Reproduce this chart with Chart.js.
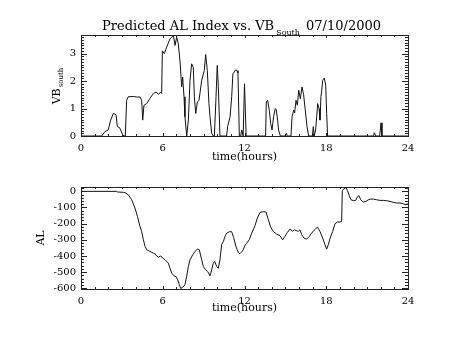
<!DOCTYPE html>
<html>
<head>
<meta charset="utf-8">
<script src="https://cdn.jsdelivr.net/npm/chart.js@4.4.1/dist/chart.umd.min.js"></script>
<style>
  html, body { margin: 0; padding: 0; background: #fff; }
  #wrap { position: relative; width: 454px; height: 341px; }
  canvas { position: absolute; left: 0; }
  #vbChart { top: 0; }
  #alChart { top: 170px; }
</style>
</head>
<body>
<div id="wrap">
  <canvas id="vbChart" width="454" height="170"></canvas>
  <canvas id="alChart" width="454" height="171"></canvas>
</div>
<script>
// Tick labels
const hourTicks = [0, 6, 12, 18, 24];
const vbTicks = [0, 1, 2, 3];
const alTicks = [-600, -500, -400, -300, -200, -100, 0];

// Southward IMF (VB south), time in hours
const vbTime = [
  0, 1.52, 1.76, 2.0, 2.18, 2.37, 2.57, 2.67, 2.82, 2.91,
  3.06, 3.16, 3.25, 3.35, 3.47, 3.84, 4.09, 4.33, 4.45, 4.53,
  4.62, 4.82, 5.06, 5.31, 5.5, 5.68, 5.85, 5.92, 5.97, 6.12,
  6.29, 6.53, 6.78, 6.9, 7.02, 7.14, 7.27, 7.39, 7.46, 7.56,
  7.63, 7.76, 7.88, 8.0, 8.12, 8.24, 8.32, 8.42, 8.54, 8.66,
  8.86, 9.05, 9.15, 9.27, 9.39, 9.47, 9.59, 9.71, 9.79, 9.91,
  10.0, 10.08, 10.2, 10.69, 10.76, 10.94, 11.06, 11.15, 11.25, 11.35,
  11.45, 11.52, 11.62, 11.72, 11.8, 11.9, 12.0, 12.12, 13.55, 13.6,
  13.7, 13.82, 13.92, 14.02, 14.14, 14.26, 14.33, 14.43, 14.5, 14.63,
  14.99, 15.07, 15.14, 15.41, 15.49, 15.61, 15.68, 15.78, 15.88, 15.98,
  16.1, 16.22, 16.34, 16.46, 16.59, 16.71, 16.98, 17.05, 17.12, 17.22,
  17.3, 17.37, 17.47, 17.54, 17.61, 17.67, 17.74, 17.86, 17.96, 18.03,
  18.1, 21.46, 21.53, 21.63, 21.92, 22.02, 22.09, 24
];
const vbSouth = [
  0, 0, 0.16, 0.22, 0.58, 0.82, 0.78, 0.34, 0.31, 0.22,
  0.04, 0, 0, 1.3, 1.43, 1.44, 1.42, 1.42, 1.3, 0.58,
  1.12, 1.18, 1.37, 1.55, 1.6, 1.52, 1.6, 1.55, 3.1, 3.0,
  3.24, 3.54, 3.66, 3.3, 3.6, 3.36, 2.7, 1.79, 2.15, 1.43,
  0.7, 0, 0.58, 2.03, 2.63, 2.5, 1.43, 0.82, 1.24, 1.3,
  2.03, 2.39, 2.97, 2.39, 1.18, 0.7, 0.1, 0, 0, 1.43,
  2.57, 1.8, 0, 0, 0.34, 0.7, 1.43, 2.27, 2.33, 2.41,
  2.38, 2.3, 0, 0, 0.22, 0, 1.9, 0, 0, 1.24,
  1.3, 0.94, 0.46, 0.22, 0.72, 1.0, 0.96, 0.58, 0.22, 0,
  0, 0.1, 0, 0, 0.7, 0.94, 0.84, 1.3, 1.12, 1.67,
  1.36, 1.79, 1.5, 0.94, 0.34, 0, 0, 0.34, 0, 0.22,
  0.7, 1.18, 1.0, 0.58, 1.43, 1.67, 2.03, 2.11, 1.85, 0.82,
  0, 0, 0.12, 0, 0, 0.48, 0, 0
];

// Predicted AL index, time in hours
const alTime = [
  0, 2.6, 2.7, 3.1, 3.23, 3.47, 3.72, 3.96, 4.14, 4.33,
  4.45, 4.58, 4.7, 4.82, 5.06, 5.31, 5.43, 5.55, 5.68, 5.85,
  6.0, 6.17, 6.41, 6.53, 6.66, 6.83, 6.97, 7.1, 7.22, 7.32,
  7.46, 7.63, 7.75, 7.88, 8.0, 8.2, 8.37, 8.54, 8.68, 8.86,
  8.98, 9.15, 9.3, 9.47, 9.59, 9.71, 9.81, 9.96, 10.08, 10.2,
  10.32, 10.45, 10.57, 10.69, 10.89, 11.06, 11.2, 11.38, 11.55, 11.67,
  11.87, 12.04, 12.16, 12.35, 12.53, 12.77, 12.94, 13.14, 13.38, 13.58,
  13.75, 13.92, 14.11, 14.36, 14.61, 14.8, 14.97, 15.14, 15.34, 15.54,
  15.66, 15.83, 15.95, 16.07, 16.2, 16.37, 16.56, 16.76, 16.93, 17.1,
  17.35, 17.54, 17.74, 17.91, 18.03, 18.15, 18.28, 18.47, 18.64, 18.81,
  19.01, 19.13, 19.18, 19.3, 19.45, 19.55, 19.69, 19.82, 19.99, 20.16,
  20.31, 20.4, 20.53, 20.72, 20.92, 21.09, 21.26, 21.46, 21.7, 21.94,
  22.19, 22.43, 22.68, 22.92, 23.17, 23.41, 23.66, 23.83, 23.98, 24
];
const alIndex = [
  0, 0, -4, -6, -8, -21, -52, -103, -155, -217,
  -248, -300, -341, -362, -372, -383, -387, -400, -408, -400,
  -414, -424, -445, -476, -507, -523, -528, -548, -579, -602,
  -594, -579, -528, -466, -424, -393, -372, -358, -362, -424,
  -466, -486, -497, -523, -486, -445, -434, -466, -476, -424,
  -331, -310, -279, -259, -250, -250, -285, -345, -380, -386,
  -368, -334, -321, -300, -259, -213, -166, -130, -126, -128,
  -176, -221, -248, -265, -275, -300, -279, -255, -234, -248,
  -238, -244, -248, -238, -269, -290, -296, -279, -259, -242,
  -221, -248, -290, -331, -358, -331, -290, -248, -201, -190,
  -190, -186, 6, 15, 24, 6, -27, -52, -58, -56,
  -31, -27, -52, -66, -62, -52, -48, -48, -52, -56,
  -56, -58, -62, -68, -72, -72, -77, -83, -77, -80
];

const serif = "'DejaVu Serif', 'Liberation Serif', serif";

// Box frame plus inward major/minor ticks on all four sides
const idlAxes = {
  id: 'idlAxes',
  afterDatasetsDraw(chart, args, opts) {
    const { ctx, chartArea: a, scales: { x, y } } = chart;
    ctx.save();
    ctx.strokeStyle = '#222';
    ctx.lineWidth = 1;
    ctx.strokeRect(a.left + 0.5, a.top + 0.5, a.right - a.left, a.bottom - a.top);
    ctx.beginPath();
    for (let h = 0; h <= 24; h++) {
      const px = Math.round(x.getPixelForValue(h)) + 0.5;
      const len = h % 6 === 0 ? 3 : 2;
      ctx.moveTo(px, a.bottom); ctx.lineTo(px, a.bottom - len);
      ctx.moveTo(px, a.top); ctx.lineTo(px, a.top + len);
    }
    const n0 = Math.ceil(y.min / opts.minor - 1e-6);
    const n1 = Math.floor(y.max / opts.minor + 1e-6);
    for (let n = n0; n <= n1; n++) {
      const v = n * opts.minor;
      const py = Math.round(y.getPixelForValue(v)) + 0.5;
      const major = Math.abs(v / opts.major - Math.round(v / opts.major)) < 1e-6;
      const len = major ? 6 : 3;
      ctx.moveTo(a.left, py); ctx.lineTo(a.left + len, py);
      ctx.moveTo(a.right, py); ctx.lineTo(a.right - len, py);
    }
    ctx.stroke();
    ctx.restore();
  }
};

// Text with a lowered, smaller suffix
function drawSub(ctx, x, y, main, sub, size, subSize, drop, gap) {
  ctx.font = size + 'px ' + serif;
  ctx.fillText(main, x, y);
  const w = ctx.measureText(main).width;
  ctx.font = subSize + 'px ' + serif;
  ctx.fillText(sub, x + w + gap, y + drop);
  return w + gap + ctx.measureText(sub).width;
}

// Main title and the VB_south axis title
const vbTitles = {
  id: 'vbTitles',
  afterDraw(chart) {
    const ctx = chart.ctx;
    ctx.save();
    ctx.fillStyle = '#000';
    ctx.textBaseline = 'alphabetic';
    ctx.textAlign = 'left';
    drawSub(ctx, 102, 30, 'Predicted AL Index vs. VB', 'South', 13, 8, 5, 2);
    ctx.font = '13px ' + serif;
    ctx.textAlign = 'right';
    ctx.fillText('07/10/2000', 381, 30);

    ctx.textAlign = 'left';
    ctx.translate(60, 86);
    ctx.rotate(-Math.PI / 2);
    ctx.font = '11px ' + serif;
    const w1 = ctx.measureText('VB').width;
    ctx.font = '7px ' + serif;
    const w2 = ctx.measureText('south').width;
    drawSub(ctx, -(w1 + 1 + w2) / 2, 0, 'VB', 'south', 11, 7, 3, 1);
    ctx.restore();
  }
};

function makeOptions(cfg) {
  return {
    responsive: false,
    animation: false,
    layout: { padding: { top: cfg.padTop, left: 0, right: 46, bottom: 0 } },
    plugins: {
      legend: { display: false },
      tooltip: { enabled: false },
      idlAxes: { major: cfg.major, minor: cfg.minor }
    },
    scales: {
      x: {
        type: 'linear',
        min: 0,
        max: 24,
        grid: { display: false, drawTicks: false },
        border: { display: false },
        afterBuildTicks: s => { s.ticks = hourTicks.map(v => ({ value: v })); },
        afterFit: s => { s.height = cfg.xHeight; },
        ticks: { color: '#000', padding: 6, font: { family: serif, size: 10 } },
        title: {
          display: true,
          text: 'time(hours)',
          color: '#000',
          font: { family: serif, size: 11 },
          padding: { top: 0, bottom: cfg.xTitlePad }
        }
      },
      y: {
        min: cfg.yMin,
        max: cfg.yMax,
        grid: { display: false, drawTicks: false },
        border: { display: false },
        afterBuildTicks: s => { s.ticks = cfg.ticks.map(v => ({ value: v })); },
        afterFit: s => { s.width = 81; },
        ticks: { color: '#000', padding: 5, font: { family: serif, size: 10 } },
        title: cfg.yTitle
          ? {
              display: true,
              text: cfg.yTitle,
              color: '#000',
              font: { family: serif, size: 11 },
              padding: { top: 35, bottom: 0 }
            }
          : { display: false }
      }
    }
  };
}

function lineData(times, values) {
  return {
    datasets: [{
      data: times.map((t, i) => ({ x: t, y: values[i] })),
      borderColor: '#111',
      borderWidth: 1,
      pointRadius: 0,
      tension: 0
    }]
  };
}

new Chart(document.getElementById('vbChart'), {
  type: 'line',
  data: lineData(vbTime, vbSouth),
  options: makeOptions({
    padTop: 35, xHeight: 34, xTitlePad: 6, yMin: 0, yMax: 3.68,
    ticks: vbTicks, major: 1, minor: 0.1, yTitle: null
  }),
  plugins: [idlAxes, vbTitles]
});

new Chart(document.getElementById('alChart'), {
  type: 'line',
  data: lineData(alTime, alIndex),
  options: makeOptions({
    padTop: 17, xHeight: 52, xTitlePad: 26, yMin: -605, yMax: 27,
    ticks: alTicks, major: 100, minor: 20, yTitle: 'AL'
  }),
  plugins: [idlAxes]
});
</script>
</body>
</html>
